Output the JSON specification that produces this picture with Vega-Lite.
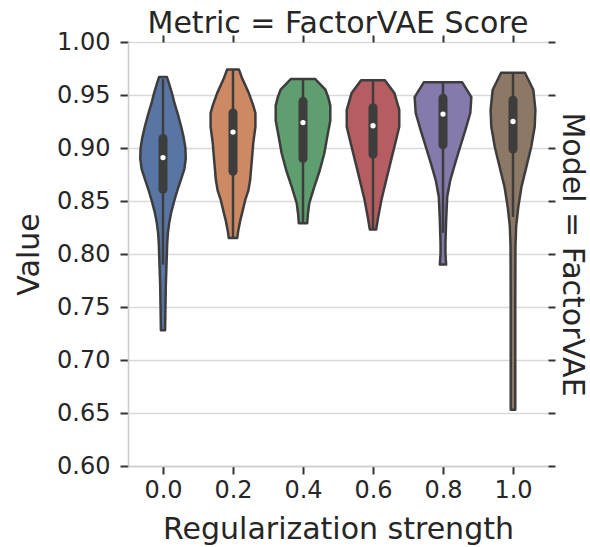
{
  "$schema": "https://vega.github.io/schema/vega-lite/v6.json",
  "background": "white",
  "autosize": {"type": "none"},
  "padding": {"left": 128, "top": 42, "right": 42, "bottom": 81},
  "width": 420,
  "height": 424,
  "title": {"text": "Metric = FactorVAE Score", "fontSize": 30, "fontWeight": "normal", "font": "DejaVu Sans", "color": "#262626", "frame": "group", "anchor": "middle", "offset": -9},
  "datasets": {
    "violin": [
      {"Strength": 0.0, "Value": 0.967, "Left": -0.011, "Right": 0.011},
      {"Strength": 0.0, "Value": 0.960, "Left": -0.018, "Right": 0.018},
      {"Strength": 0.0, "Value": 0.950, "Left": -0.027, "Right": 0.027},
      {"Strength": 0.0, "Value": 0.942, "Left": -0.033, "Right": 0.033},
      {"Strength": 0.0, "Value": 0.930, "Left": -0.044, "Right": 0.044},
      {"Strength": 0.0, "Value": 0.920, "Left": -0.052, "Right": 0.052},
      {"Strength": 0.0, "Value": 0.910, "Left": -0.059, "Right": 0.059},
      {"Strength": 0.0, "Value": 0.900, "Left": -0.064, "Right": 0.064},
      {"Strength": 0.0, "Value": 0.890, "Left": -0.065, "Right": 0.065},
      {"Strength": 0.0, "Value": 0.880, "Left": -0.061, "Right": 0.061},
      {"Strength": 0.0, "Value": 0.870, "Left": -0.051, "Right": 0.051},
      {"Strength": 0.0, "Value": 0.860, "Left": -0.041, "Right": 0.041},
      {"Strength": 0.0, "Value": 0.850, "Left": -0.032, "Right": 0.032},
      {"Strength": 0.0, "Value": 0.840, "Left": -0.024, "Right": 0.024},
      {"Strength": 0.0, "Value": 0.830, "Left": -0.018, "Right": 0.018},
      {"Strength": 0.0, "Value": 0.820, "Left": -0.014, "Right": 0.014},
      {"Strength": 0.0, "Value": 0.810, "Left": -0.012, "Right": 0.012},
      {"Strength": 0.0, "Value": 0.790, "Left": -0.010, "Right": 0.010},
      {"Strength": 0.0, "Value": 0.770, "Left": -0.008, "Right": 0.008},
      {"Strength": 0.0, "Value": 0.750, "Left": -0.007, "Right": 0.007},
      {"Strength": 0.0, "Value": 0.728, "Left": -0.006, "Right": 0.006},
      {"Strength": 0.2, "Value": 0.974, "Left": 0.183, "Right": 0.217},
      {"Strength": 0.2, "Value": 0.965, "Left": 0.173, "Right": 0.227},
      {"Strength": 0.2, "Value": 0.952, "Left": 0.155, "Right": 0.245},
      {"Strength": 0.2, "Value": 0.940, "Left": 0.142, "Right": 0.258},
      {"Strength": 0.2, "Value": 0.933, "Left": 0.136, "Right": 0.264},
      {"Strength": 0.2, "Value": 0.920, "Left": 0.136, "Right": 0.264},
      {"Strength": 0.2, "Value": 0.905, "Left": 0.142, "Right": 0.258},
      {"Strength": 0.2, "Value": 0.889, "Left": 0.146, "Right": 0.254},
      {"Strength": 0.2, "Value": 0.870, "Left": 0.151, "Right": 0.249},
      {"Strength": 0.2, "Value": 0.860, "Left": 0.156, "Right": 0.244},
      {"Strength": 0.2, "Value": 0.851, "Left": 0.165, "Right": 0.235},
      {"Strength": 0.2, "Value": 0.840, "Left": 0.173, "Right": 0.227},
      {"Strength": 0.2, "Value": 0.832, "Left": 0.179, "Right": 0.221},
      {"Strength": 0.2, "Value": 0.822, "Left": 0.185, "Right": 0.215},
      {"Strength": 0.2, "Value": 0.815, "Left": 0.188, "Right": 0.212},
      {"Strength": 0.4, "Value": 0.965, "Left": 0.365, "Right": 0.435},
      {"Strength": 0.4, "Value": 0.955, "Left": 0.336, "Right": 0.464},
      {"Strength": 0.4, "Value": 0.948, "Left": 0.328, "Right": 0.472},
      {"Strength": 0.4, "Value": 0.940, "Left": 0.322, "Right": 0.478},
      {"Strength": 0.4, "Value": 0.926, "Left": 0.322, "Right": 0.478},
      {"Strength": 0.4, "Value": 0.910, "Left": 0.331, "Right": 0.469},
      {"Strength": 0.4, "Value": 0.895, "Left": 0.339, "Right": 0.461},
      {"Strength": 0.4, "Value": 0.879, "Left": 0.352, "Right": 0.448},
      {"Strength": 0.4, "Value": 0.863, "Left": 0.368, "Right": 0.432},
      {"Strength": 0.4, "Value": 0.848, "Left": 0.382, "Right": 0.418},
      {"Strength": 0.4, "Value": 0.838, "Left": 0.386, "Right": 0.414},
      {"Strength": 0.4, "Value": 0.829, "Left": 0.388, "Right": 0.412},
      {"Strength": 0.6, "Value": 0.964, "Left": 0.566, "Right": 0.634},
      {"Strength": 0.6, "Value": 0.952, "Left": 0.539, "Right": 0.661},
      {"Strength": 0.6, "Value": 0.936, "Left": 0.525, "Right": 0.675},
      {"Strength": 0.6, "Value": 0.920, "Left": 0.525, "Right": 0.675},
      {"Strength": 0.6, "Value": 0.905, "Left": 0.536, "Right": 0.664},
      {"Strength": 0.6, "Value": 0.889, "Left": 0.548, "Right": 0.652},
      {"Strength": 0.6, "Value": 0.870, "Left": 0.562, "Right": 0.638},
      {"Strength": 0.6, "Value": 0.851, "Left": 0.576, "Right": 0.624},
      {"Strength": 0.6, "Value": 0.835, "Left": 0.585, "Right": 0.615},
      {"Strength": 0.6, "Value": 0.823, "Left": 0.591, "Right": 0.609},
      {"Strength": 0.8, "Value": 0.962, "Left": 0.745, "Right": 0.855},
      {"Strength": 0.8, "Value": 0.948, "Left": 0.719, "Right": 0.881},
      {"Strength": 0.8, "Value": 0.933, "Left": 0.722, "Right": 0.878},
      {"Strength": 0.8, "Value": 0.917, "Left": 0.736, "Right": 0.864},
      {"Strength": 0.8, "Value": 0.901, "Left": 0.751, "Right": 0.849},
      {"Strength": 0.8, "Value": 0.886, "Left": 0.765, "Right": 0.835},
      {"Strength": 0.8, "Value": 0.870, "Left": 0.779, "Right": 0.821},
      {"Strength": 0.8, "Value": 0.854, "Left": 0.788, "Right": 0.812},
      {"Strength": 0.8, "Value": 0.832, "Left": 0.791, "Right": 0.809},
      {"Strength": 0.8, "Value": 0.810, "Left": 0.793, "Right": 0.807},
      {"Strength": 0.8, "Value": 0.800, "Left": 0.793, "Right": 0.807},
      {"Strength": 0.8, "Value": 0.790, "Left": 0.791, "Right": 0.809},
      {"Strength": 1.0, "Value": 0.971, "Left": 0.966, "Right": 1.034},
      {"Strength": 1.0, "Value": 0.955, "Left": 0.942, "Right": 1.058},
      {"Strength": 1.0, "Value": 0.936, "Left": 0.936, "Right": 1.064},
      {"Strength": 1.0, "Value": 0.920, "Left": 0.938, "Right": 1.062},
      {"Strength": 1.0, "Value": 0.901, "Left": 0.948, "Right": 1.052},
      {"Strength": 1.0, "Value": 0.882, "Left": 0.962, "Right": 1.038},
      {"Strength": 1.0, "Value": 0.863, "Left": 0.976, "Right": 1.024},
      {"Strength": 1.0, "Value": 0.844, "Left": 0.985, "Right": 1.015},
      {"Strength": 1.0, "Value": 0.826, "Left": 0.991, "Right": 1.009},
      {"Strength": 1.0, "Value": 0.807, "Left": 0.993, "Right": 1.007},
      {"Strength": 1.0, "Value": 0.750, "Left": 0.9935, "Right": 1.0065},
      {"Strength": 1.0, "Value": 0.700, "Left": 0.9935, "Right": 1.0065},
      {"Strength": 1.0, "Value": 0.653, "Left": 0.9935, "Right": 1.0065}
    ],
    "box": [
      {"Strength": 0.0, "Low": 0.790, "Q1": 0.861, "Median": 0.891, "Q3": 0.909, "High": 0.965},
      {"Strength": 0.2, "Low": 0.815, "Q1": 0.878, "Median": 0.915, "Q3": 0.933, "High": 0.974},
      {"Strength": 0.4, "Low": 0.830, "Q1": 0.890, "Median": 0.924, "Q3": 0.944, "High": 0.965},
      {"Strength": 0.6, "Low": 0.823, "Q1": 0.894, "Median": 0.921, "Q3": 0.938, "High": 0.964},
      {"Strength": 0.8, "Low": 0.820, "Q1": 0.903, "Median": 0.932, "Q3": 0.947, "High": 0.962},
      {"Strength": 1.0, "Low": 0.835, "Q1": 0.899, "Median": 0.925, "Q3": 0.945, "High": 0.971}
    ]
  },
  "layer": [
    {
      "data": {"name": "violin"},
      "mark": {"type": "area", "orient": "horizontal", "stroke": "#3d3d3d", "strokeWidth": 2.5, "strokeJoin": "round", "fillOpacity": 1},
      "encoding": {
        "y": {"field": "Value", "type": "quantitative", "scale": {"domain": [0.6, 1.0], "nice": false, "zero": false},
          "axis": {"orient": "left", "title": "Value", "values": [0.6, 0.65, 0.7, 0.75, 0.8, 0.85, 0.9, 0.95, 1.0], "format": ".2f", "grid": true, "gridColor": "#d9d9d9", "gridWidth": 1.5, "domain": true, "domainColor": "#cccccc", "domainWidth": 1.5, "tickColor": "#333333", "tickSize": 8, "tickWidth": 2, "labelPadding": 10, "titlePadding": 12}},
        "x": {"field": "Left", "type": "quantitative", "scale": {"domain": [-0.1, 1.1], "nice": false, "zero": false},
          "axis": {"orient": "bottom", "values": [0, 0.2, 0.4, 0.6, 0.8, 1.0], "format": ".1f", "title": "Regularization strength", "grid": false, "domain": true, "domainColor": "#cccccc", "domainWidth": 1.5, "tickColor": "#333333", "tickSize": 8, "tickWidth": 2, "labelPadding": 4, "titlePadding": 12}},
        "x2": {"field": "Right"},
        "color": {"field": "Strength", "type": "nominal", "legend": null,
          "scale": {"domain": [0, 0.2, 0.4, 0.6, 0.8, 1], "range": ["#5975a4", "#cc8963", "#5f9e6e", "#b55d60", "#857aab", "#8d7866"]}}
      }
    },
    {
      "data": {"name": "box"},
      "mark": {"type": "rule", "color": "#3d3d3d", "strokeWidth": 2.5},
      "encoding": {
        "x": {"field": "Strength", "type": "quantitative", "axis": null},
        "y": {"field": "Low", "type": "quantitative", "axis": null},
        "y2": {"field": "High"}
      }
    },
    {
      "data": {"name": "box"},
      "mark": {"type": "rule", "color": "#3d3d3d", "strokeWidth": 9, "strokeCap": "round"},
      "encoding": {
        "x": {"field": "Strength", "type": "quantitative", "axis": null},
        "y": {"field": "Q1", "type": "quantitative", "axis": null},
        "y2": {"field": "Q3"}
      }
    },
    {
      "data": {"name": "box"},
      "mark": {"type": "point", "filled": true, "color": "white", "opacity": 1, "size": 28},
      "encoding": {
        "x": {"field": "Strength", "type": "quantitative",
          "axis": {"orient": "top", "values": [0, 0.2, 0.4, 0.6, 0.8, 1.0], "labels": false, "title": null, "grid": false, "domain": false, "tickColor": "#333333", "tickSize": 7, "tickWidth": 2}},
        "y": {"field": "Median", "type": "quantitative",
          "axis": {"orient": "right", "values": [0.6, 0.65, 0.7, 0.75, 0.8, 0.85, 0.9, 0.95, 1.0], "labels": false, "grid": false, "domain": false, "tickColor": "#333333", "tickSize": 7, "tickWidth": 2, "title": "Model = FactorVAE", "titleAngle": 90, "titlePadding": 0}}
      }
    }
  ],
  "resolve": {"axis": {"x": "independent", "y": "independent"}},
  "config": {
    "font": "DejaVu Sans",
    "view": {"stroke": null},
    "axis": {"labelFontSize": 24, "titleFontSize": 30, "labelColor": "#262626", "titleColor": "#262626", "titleFontWeight": "normal", "labelFont": "DejaVu Sans", "titleFont": "DejaVu Sans"}
  }
}
